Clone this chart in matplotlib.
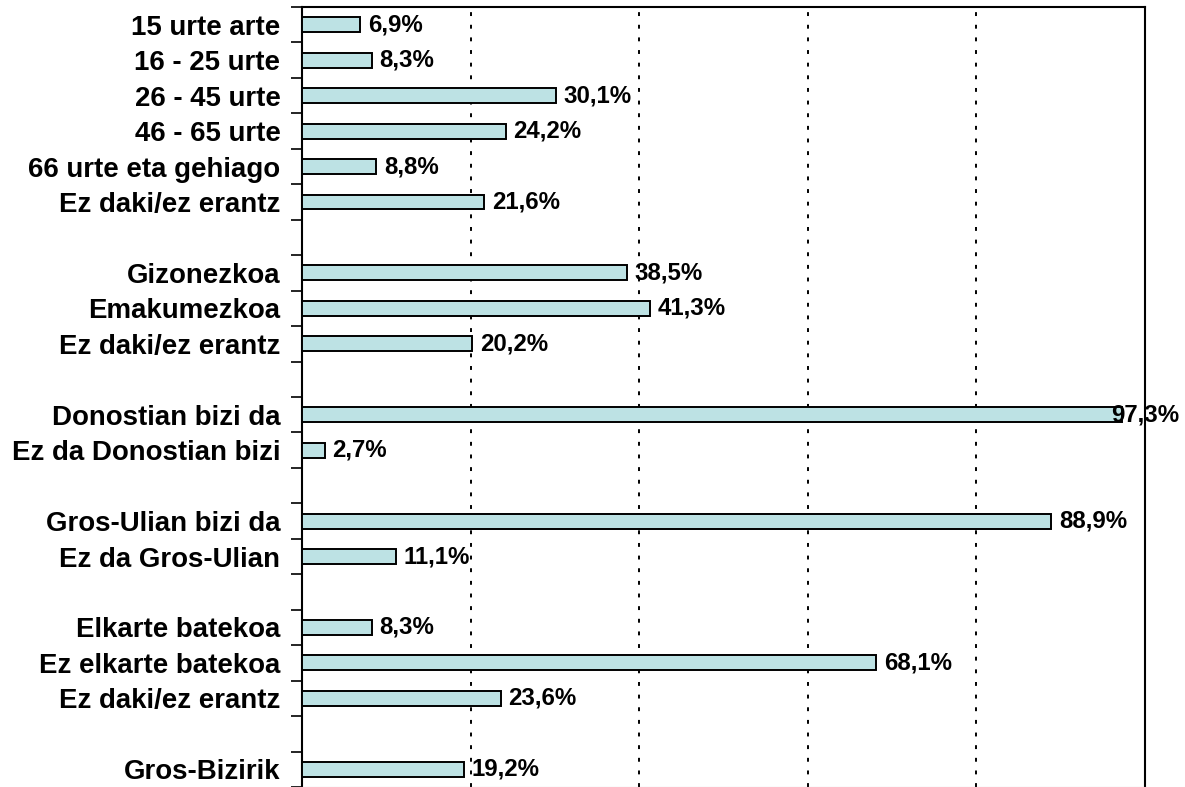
import matplotlib.pyplot as plt
import numpy as np

# categories top to bottom, '' = blank spacer row
labels = ['15 urte arte', '16 - 25 urte', '26 - 45 urte', '46 - 65 urte',
          '66 urte eta gehiago', 'Ez daki/ez erantz', '',
          'Gizonezkoa', 'Emakumezkoa', 'Ez daki/ez erantz', '',
          'Donostian bizi da', 'Ez da Donostian bizi', '',
          'Gros-Ulian bizi da', 'Ez da Gros-Ulian', '',
          'Elkarte batekoa', 'Ez elkarte batekoa', 'Ez daki/ez erantz', '',
          'Gros-Bizirik']
values = [6.9, 8.3, 30.1, 24.2, 8.8, 21.6, None,
          38.5, 41.3, 20.2, None,
          97.3, 2.7, None,
          88.9, 11.1, None,
          8.3, 68.1, 23.6, None,
          19.2]

plt.rcParams['font.family'] = ['Liberation Sans', 'DejaVu Sans']
plt.rcParams['font.weight'] = 'bold'

fig = plt.figure(figsize=(11.85, 7.87), dpi=100)
ax = fig.add_axes([302 / 1185, 0.0, (1145 - 302) / 1185, 780 / 787])

n = len(labels)
ypos = np.arange(n)
bar_color = '#bde2e4'

for y, v in zip(ypos, values):
    if v is None:
        continue
    ax.barh(y, v, height=0.42, color=bar_color, edgecolor='black', linewidth=1.4, zorder=3)
    # label sits right of the bar, pulled back near the right edge so it fits
    ax.text(min(v + 0.9, 96.0), y, f"{v:.1f}".replace('.', ',') + '%', va='center', ha='left',
            fontsize=17.3, fontweight='bold', zorder=5)

ax.set_xlim(0, 100)
ax.set_ylim(n - 0.5, -0.5)

# dotted vertical grid
for gx in [20, 40, 60, 80]:
    ax.axvline(gx, color='black', linewidth=1.4, linestyle=(0, (2, 4.5)), zorder=1)

ax.set_xticks([])
# labels in row centers (major, no mark), tick marks on row boundaries (minor)
ax.set_yticks(ypos)
ax.set_yticklabels(labels)
ax.set_yticks(np.arange(n + 1) - 0.5, minor=True)
ax.tick_params(axis='y', which='major', length=0, pad=15.5, labelsize=19.9)
ax.tick_params(axis='y', which='minor', length=8, width=1.2, direction='out')

for s in ['left', 'right', 'top']:
    ax.spines[s].set_linewidth(1.5)
    ax.spines[s].set_color('black')
ax.spines['bottom'].set_color('#c0c0c0')

fig.savefig('out.png', dpi=100)
